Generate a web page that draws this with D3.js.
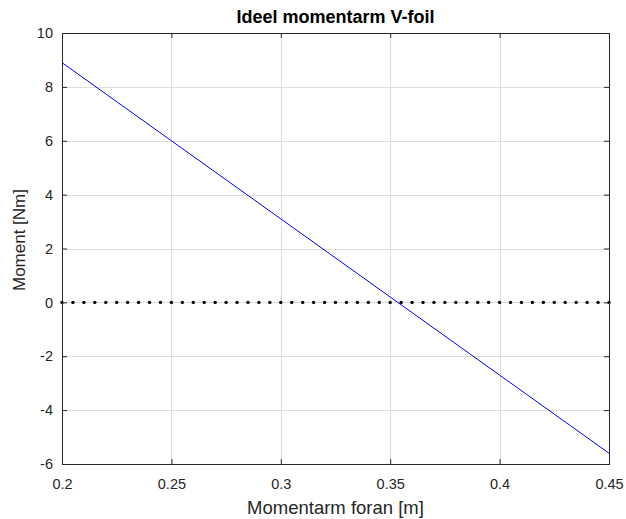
<!DOCTYPE html>
<html>
<head>
<meta charset="utf-8">
<script src="https://cdn.jsdelivr.net/npm/d3@7"></script>
<style>
  html, body { margin: 0; padding: 0; background: #fff; }
  svg { display: block; font-family: "Liberation Sans", Arial, Helvetica, sans-serif; }
</style>
</head>
<body>
<svg id="chart" width="626" height="519"></svg>
<script>
// Moment arm (m) and resulting moment (Nm)
const armValues = [0.2, 0.25, 0.3, 0.35, 0.4, 0.45];
const momentValues = [8.9, 6.0, 3.1, 0.2, -2.7, -5.6];

// Sample positions of the zero-moment reference markers
const zeroArm = [
  0.2, 0.205, 0.21, 0.215, 0.22, 0.225, 0.23, 0.235, 0.24, 0.245,
  0.25, 0.255, 0.26, 0.265, 0.27, 0.275, 0.28, 0.285, 0.29, 0.295,
  0.3, 0.305, 0.31, 0.315, 0.32, 0.325, 0.33, 0.335, 0.34, 0.345,
  0.35, 0.355, 0.36, 0.365, 0.37, 0.375, 0.38, 0.385, 0.39, 0.395,
  0.4, 0.405, 0.41, 0.415, 0.42, 0.425, 0.43, 0.435, 0.44, 0.445, 0.45
];
const zeroLevel = 0;

const xTicks = [0.2, 0.25, 0.3, 0.35, 0.4, 0.45];
const xTickLabels = ["0.2", "0.25", "0.3", "0.35", "0.4", "0.45"];
const yTicks = [-6, -4, -2, 0, 2, 4, 6, 8, 10];
const yTickLabels = ["-6", "-4", "-2", "0", "2", "4", "6", "8", "10"];

const titleText = "Ideel momentarm V-foil";
const xLabelText = "Momentarm foran [m]";
const yLabelText = "Moment [Nm]";

const svg = d3.select("#chart");
const box = { left: 62, top: 33, right: 609, bottom: 464 };
const axisColor = "#262626";

const x = d3.scaleLinear().domain([0.2, 0.45]).range([box.left, box.right]);
const y = d3.scaleLinear().domain([-6, 10]).range([box.bottom, box.top]);

svg.append("rect").attr("width", 626).attr("height", 519).attr("fill", "#fff");

// grid
const grid = svg.append("g").attr("stroke", "#dedede").attr("stroke-width", 1);
grid.selectAll("line.gx").data(xTicks).join("line")
  .attr("x1", d => Math.round(x(d)) + 0.5).attr("x2", d => Math.round(x(d)) + 0.5)
  .attr("y1", box.top).attr("y2", box.bottom);
grid.selectAll("line.gy").data(yTicks).join("line")
  .attr("y1", d => Math.round(y(d)) + 0.5).attr("y2", d => Math.round(y(d)) + 0.5)
  .attr("x1", box.left).attr("x2", box.right);

// data line
const line = d3.line().x(d => x(d[0])).y(d => y(d[1]));
svg.append("path")
  .datum(d3.zip(armValues, momentValues))
  .attr("d", line)
  .attr("fill", "none")
  .attr("stroke", "#0000ff")
  .attr("stroke-width", 1);

// zero reference markers
svg.append("g").selectAll("circle").data(zeroArm).join("circle")
  .attr("cx", d => x(d)).attr("cy", y(zeroLevel)).attr("r", 1.7)
  .attr("fill", "#000");

// axes (inward ticks on all four sides)
const tickLen = 5;
const axB = d3.axisBottom(x).tickValues(xTicks).tickSize(-tickLen).tickPadding(15)
  .tickFormat((d, i) => xTickLabels[i]);
const axT = d3.axisTop(x).tickValues(xTicks).tickSize(-tickLen).tickFormat("");
const axL = d3.axisLeft(y).tickValues(yTicks).tickSize(-tickLen).tickPadding(9)
  .tickFormat((d, i) => yTickLabels[i]);
const axR = d3.axisRight(y).tickValues(yTicks).tickSize(-tickLen).tickFormat("");

function styleAxis(g) {
  g.select(".domain").remove();
  g.selectAll(".tick line").attr("stroke", axisColor);
  g.selectAll(".tick text").attr("fill", axisColor).attr("font-size", 14.5)
    .attr("font-family", "Liberation Sans, Arial, sans-serif");
}
svg.append("g").attr("transform", `translate(0,${box.bottom})`).call(axB).call(styleAxis);
svg.append("g").attr("transform", `translate(0,${box.top})`).call(axT).call(styleAxis);
svg.append("g").attr("transform", `translate(${box.left},0)`).call(axL).call(styleAxis);
svg.append("g").attr("transform", `translate(${box.right},0)`).call(axR).call(styleAxis);

// axes box
svg.append("rect")
  .attr("x", box.left + 0.5).attr("y", box.top + 0.5)
  .attr("width", box.right - box.left).attr("height", box.bottom - box.top)
  .attr("fill", "none").attr("stroke", axisColor).attr("stroke-width", 1);

// title and labels
svg.append("text")
  .attr("x", (box.left + box.right) / 2).attr("y", 23)
  .attr("text-anchor", "middle").attr("font-weight", "bold").attr("font-size", 18)
  .attr("fill", "#000").text(titleText);
svg.append("text")
  .attr("x", (box.left + box.right) / 2).attr("y", 514)
  .attr("text-anchor", "middle").attr("font-size", 18.5)
  .attr("fill", axisColor).text(xLabelText);
svg.append("text")
  .attr("transform", `translate(25,240) rotate(-90)`)
  .attr("text-anchor", "middle").attr("font-size", 17)
  .attr("fill", axisColor).text(yLabelText);
</script>
</body>
</html>
